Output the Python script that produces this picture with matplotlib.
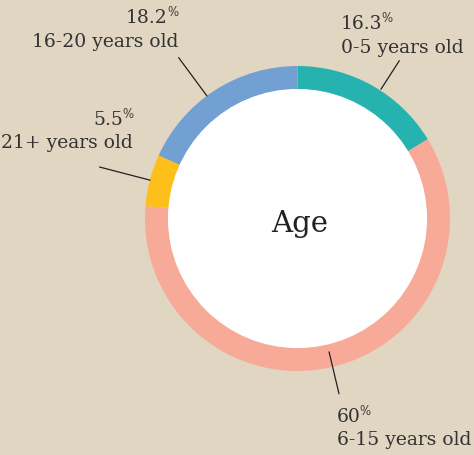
import numpy as np
import matplotlib.pyplot as plt

# data, clockwise from 12 o'clock
labels = ['0-5 years old', '6-15 years old', '21+ years old', '16-20 years old']
values = [16.3, 60, 5.5, 18.2]
value_text = ['16.3', '60', '5.5', '18.2']
colors = ['#26b3b0', '#f8aa98', '#fdc01a', '#72a0d3']

bg = '#e0d6c2'
ink = '#333333'
plt.rcParams['font.family'] = ['DejaVu Serif']

W, H = 474, 455
cx, cy, R = 297.5, 218.5, 152.5   # donut centre / radius in pixels


def px(x, y):
    # pixel position (from top-left) -> data units
    return (x - cx) / R, (cy - y) / R


fig = plt.figure(figsize=(W / 100, H / 100), dpi=100)
fig.patch.set_facecolor(bg)
ax = fig.add_axes([0, 0, 1, 1])
ax.set_facecolor(bg)

ring = 0.155
ax.pie(values, colors=colors, startangle=90, counterclock=False, radius=1,
       wedgeprops=dict(width=ring, linewidth=0))
ax.add_patch(plt.Circle((0, 0), 1 - ring, color='white', zorder=3))

# leader lines near the middle of each wedge
cum = np.cumsum(values) - np.array(values) / 2
nudge = [3.5, 0, 0, -3.7]
theta = np.deg2rad(cum * 3.6 + np.array(nudge))
r_in = [1.01, 0.9, 1.0, 1.0]
r_out = [1.23, 1.18, 1.34, 1.31]
for t, a, b in zip(theta, r_in, r_out):
    ax.plot([a * np.sin(t), b * np.sin(t)], [a * np.cos(t), b * np.cos(t)],
            color='#222222', lw=0.9, zorder=4)

# label blocks: (anchor x, alignment, baseline of value, baseline of name)
blocks = [(341, 'left', 29, 53),
          (337, 'left', 422, 445),
          (133, 'right', 125, 148),
          (178, 'right', 23, 47)]
fs = 13.5
for (x, ha, y1, y2), num, name in zip(blocks, value_text, labels):
    nx = x if ha == 'left' else x - 10
    t = ax.text(*px(nx, y1), num, ha=ha, va='baseline', fontsize=fs, color=ink)
    ax.annotate('%', xy=(1, 1), xycoords=t, xytext=(-0.8, 2.5), textcoords='offset points',
                ha='left', va='top', fontsize=8.5, color=ink)
    ax.text(*px(x, y2), name, ha=ha, va='baseline', fontsize=fs, color=ink)

ax.text(*px(300, 232), 'Age', ha='center', va='baseline', fontsize=21,
        color='#222222', zorder=5)

ax.set_xlim(-cx / R, (W - cx) / R)
ax.set_ylim(-(H - cy) / R, cy / R)
ax.set_aspect('auto')
ax.axis('off')

fig.savefig('out.png', dpi=100, facecolor=bg)
